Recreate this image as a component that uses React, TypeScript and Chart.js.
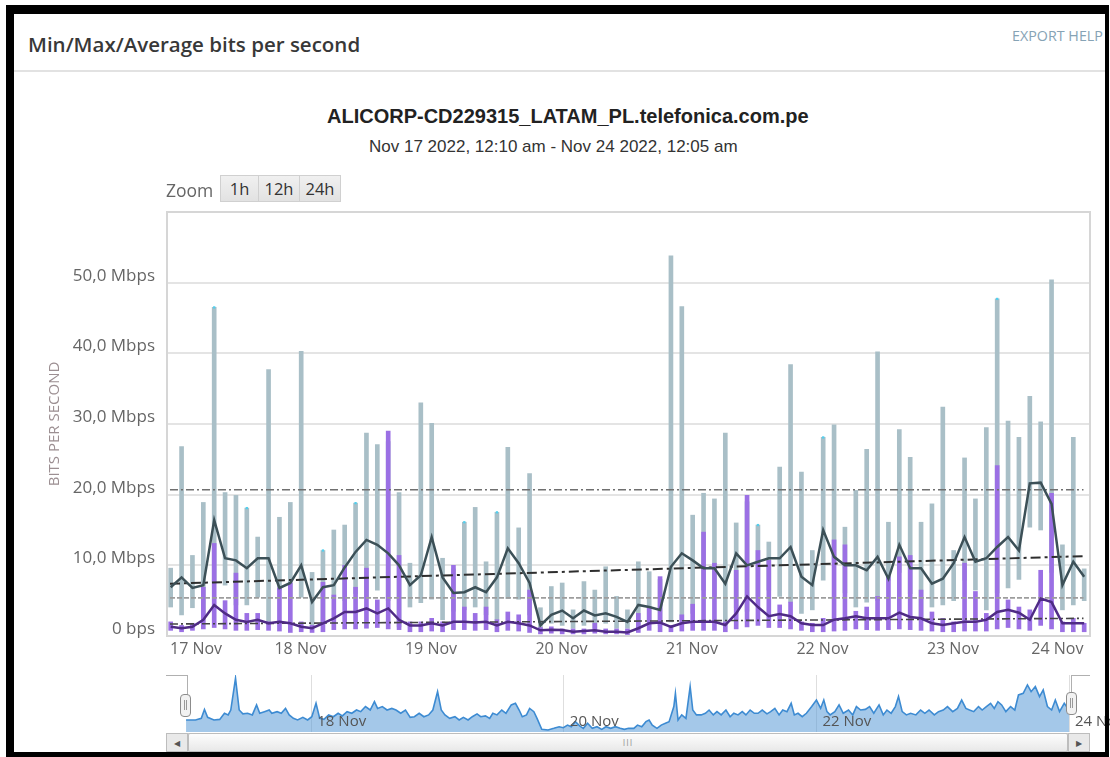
import React, { useEffect, useRef } from 'react';
import { Chart, registerables } from 'chart.js';

Chart.register(...registerables);

// ---------- axis / tick data ----------
const dayTickHours = [0, 24, 48, 72, 96, 120, 144, 168];
const dayLabels = ['17 Nov', '18 Nov', '19 Nov', '20 Nov', '21 Nov', '22 Nov', '23 Nov', '24 Nov'];
const yTickValues = [0, 10, 20, 30, 40, 50, 60];
const yTickLabels = ['0 bps', '10,0 Mbps', '20,0 Mbps', '30,0 Mbps', '40,0 Mbps', '50,0 Mbps', ''];

// time axis (hours since 17 Nov 00:00)
const X_MIN = -0.55;
const X_MAX = 169.2;
const FIRST_SAMPLE_HOUR = 0.13;
const SAMPLE_STEP_HOURS = 2;

// ---------- series A (grey): Mbps ----------
const grayMax = [
  9.6, 26.8, 11.4, 18.9, 46.5, 20.3, 19.9, 18.1, 14.0, 37.7,
  16.8, 18.9, 40.3, 9.0, 12.1, 15.0, 15.7, 18.8, 28.7, 27.1,
  27.5, 20.3, 10.3, 33.0, 30.1, 11.0, 9.5, 16.1, 18.2, 10.5,
  17.5, 26.7, 15.3, 23.0, 4.0, 7.0, 7.5, 3.7, 7.7, 6.5,
  9.8, 5.6, 3.7, 10.5, 9.1, 8.0, 53.8, 46.6, 17.1, 20.2,
  19.4, 28.7, 16.0, 19.0, 15.7, 13.3, 23.9, 38.4, 23.2, 12.1,
  28.1, 29.9, 15.4, 20.6, 26.4, 40.2, 16.1, 29.2, 25.3, 16.1,
  18.7, 32.4, 12.1, 25.2, 19.4, 29.5, 47.7, 30.4, 28.1, 33.9,
  30.3, 50.4, 12.9, 28.1, 9.5,
];
const grayMin = [
  4.1, 3.0, 4.0, 2.7, 7.5, 7.2, 4.4, 4.4, 5.5, 1.8,
  6.5, 5.5, 5.5, 1.5, 1.8, 5.5, 5.0, 6.0, 5.5, 6.5,
  5.0, 1.3, 4.1, 4.7, 5.2, 2.3, 3.5, 3.7, 4.1, 3.0,
  2.3, 5.3, 5.2, 3.0, 0.8, 1.8, 1.5, 1.1, 1.5, 1.1,
  1.8, 1.1, 1.1, 1.5, 2.3, 1.5, 2.0, 2.3, 3.2, 6.5,
  5.6, 2.0, 4.0, 3.5, 5.6, 6.5, 5.6, 4.8, 3.2, 3.7,
  7.9, 10.3, 6.1, 4.1, 4.8, 5.0, 7.9, 9.0, 6.0, 2.7,
  4.1, 4.4, 5.0, 7.9, 6.5, 3.7, 6.1, 6.8, 8.0, 15.4,
  15.0, 9.0, 3.7, 4.4, 5.0,
];
const grayAvg = [
  6.9, 8.3, 6.8, 7.2, 16.4, 11.0, 10.7, 9.6, 11.0, 11.0,
  6.8, 7.5, 10.0, 4.8, 6.9, 7.2, 9.7, 11.9, 13.6, 12.9,
  11.7, 10.0, 7.2, 8.6, 14.0, 8.3, 6.1, 6.2, 6.9, 6.2,
  8.3, 12.4, 10.3, 7.5, 1.5, 3.0, 3.6, 2.5, 3.6, 2.9,
  3.2, 2.7, 2.0, 4.4, 4.1, 3.7, 9.8, 11.7, 10.7, 9.6,
  9.6, 7.4, 11.7, 10.0, 10.5, 11.0, 11.0, 12.6, 8.4, 7.2,
  15.0, 11.2, 10.0, 10.0, 9.3, 11.2, 8.1, 12.9, 9.6, 9.6,
  7.4, 8.1, 10.3, 14.0, 10.5, 11.0, 12.6, 14.0, 12.1, 21.6,
  21.7, 18.7, 7.2, 10.5, 8.4,
];
// samples whose maximum marker shows as a cyan tip
const cyanTipIndex = [4, 7, 14, 17, 27, 30, 54, 60, 76];

// ---------- series B (purple): Mbps ----------
const purpleMax = [
  2.0, 1.5, 1.8, 6.9, 13.1, 5.0, 8.9, 3.2, 3.2, 2.0,
  6.8, 7.5, 2.0, 1.5, 7.6, 5.8, 10.0, 6.9, 9.6, 5.1,
  29.0, 11.4, 2.0, 2.0, 2.5, 2.0, 10.0, 4.1, 3.2, 4.1,
  2.3, 3.4, 3.0, 6.5, 1.2, 1.3, 1.0, 1.0, 1.0, 1.8,
  1.0, 1.0, 1.0, 3.2, 4.1, 8.4, 1.5, 3.0, 4.5, 14.7,
  10.3, 2.0, 9.3, 19.9, 12.1, 10.7, 4.4, 4.8, 2.0, 1.8,
  2.5, 13.6, 12.9, 3.5, 4.1, 5.6, 8.4, 11.2, 11.4, 6.5,
  3.4, 2.5, 2.0, 10.3, 6.3, 3.2, 24.1, 5.1, 4.1, 3.7,
  9.3, 20.2, 2.0, 2.5, 1.8,
];
const purpleMin = [
  0.8, 0.6, 0.8, 1.0, 1.2, 1.0, 0.8, 0.8, 0.9, 0.8,
  0.7, 0.5, 0.6, 0.5, 0.6, 0.9, 1.0, 1.0, 1.1, 1.2,
  1.0, 0.9, 0.6, 0.6, 0.7, 0.6, 0.9, 0.9, 0.8, 0.9,
  0.6, 0.8, 0.7, 0.5, 0.3, 0.4, 0.3, 0.3, 0.3, 0.4,
  0.3, 0.3, 0.2, 0.5, 0.8, 0.6, 0.6, 0.7, 0.8, 0.8,
  0.8, 0.6, 1.0, 1.3, 1.5, 1.2, 1.2, 1.0, 0.8, 0.6,
  0.6, 0.7, 0.8, 1.0, 0.9, 0.8, 0.9, 1.0, 0.9, 0.8,
  0.7, 0.6, 0.6, 0.7, 0.7, 0.7, 1.0, 1.2, 1.0, 0.8,
  1.5, 1.0, 0.6, 0.6, 0.6,
];
const purpleAvg = [
  1.3, 1.1, 1.3, 2.3, 4.4, 3.2, 2.3, 2.0, 2.3, 1.8,
  2.0, 1.8, 1.3, 1.1, 1.8, 2.5, 3.4, 3.4, 3.9, 3.2,
  3.9, 2.3, 1.5, 1.5, 1.8, 1.5, 2.0, 2.0, 1.9, 2.0,
  1.5, 2.0, 1.8, 1.5, 0.8, 0.9, 0.85, 0.6, 0.7, 0.8,
  0.6, 0.6, 0.5, 1.1, 1.8, 1.9, 1.3, 1.8, 2.0, 2.0,
  2.0, 1.55, 3.2, 5.6, 4.1, 2.8, 3.1, 2.8, 1.8, 1.55,
  1.55, 2.3, 2.5, 2.8, 2.5, 2.5, 2.5, 3.3, 2.7, 2.5,
  1.8, 1.55, 1.8, 2.0, 2.0, 2.3, 3.4, 3.7, 3.3, 2.3,
  5.3, 4.8, 1.8, 1.8, 1.8,
];

// reference lines (start / end values, Mbps)
const refLineHours = [0, 168];
const grayP95 = [20.7, 20.7];
const grayTrend = [7.4, 11.3];
const purpleP95 = [5.4, 5.4];
const purpleTrend = [1.7, 2.5];

// ---------- navigator (overview) ----------
const navTickHours = [24, 72, 120, 168];
const navTickLabels = ['18 Nov', '20 Nov', '22 Nov', '24 Nov'];
const navHours = [
  0.2, 2.0, 3.1, 3.7, 4.3, 5.5, 6.6, 7.5, 8.2, 8.7,
  9.6, 10.3, 11.0, 11.9, 12.8, 13.6, 14.2, 15.1, 16.0, 16.5,
  17.5, 18.3, 19.1, 19.8, 20.6, 21.4, 22.4, 23.3, 24.1, 24.9,
  25.6, 26.4, 27.3, 28.2, 29.1, 29.9, 30.8, 31.7, 32.6, 33.4,
  34.3, 35.2, 36.0, 36.6, 37.5, 38.4, 39.3, 40.1, 41.0, 41.9,
  42.8, 43.6, 44.5, 45.4, 46.3, 47.1, 48.0, 48.7, 49.4, 50.3,
  51.3, 52.1, 52.9, 53.8, 54.6, 55.5, 56.2, 57.1, 57.9, 58.5,
  59.3, 60.2, 61.0, 62.0, 62.8, 63.5, 64.1, 64.9, 65.5, 66.3,
  66.9, 67.8, 69.0, 70.1, 71.1, 71.9, 72.7, 73.4, 74.2, 75.0,
  75.7, 76.5, 77.4, 78.3, 79.2, 80.0, 80.9, 81.8, 82.7, 83.5,
  84.3, 85.3, 86.0, 86.8, 87.6, 88.2, 88.8, 89.7, 90.5, 91.3,
  92.0, 92.9, 93.2, 93.7, 94.4, 95.2, 96.0, 96.5, 97.2, 98.1,
  98.9, 99.6, 100.4, 101.1, 101.9, 102.8, 103.6, 104.3, 105.1, 105.9,
  106.6, 107.4, 108.2, 108.9, 109.7, 110.6, 111.3, 112.1, 112.9, 113.6,
  114.4, 115.2, 115.8, 116.5, 117.3, 118.1, 119.1, 120.0, 120.8, 121.4,
  122.0, 122.6, 123.5, 124.3, 125.1, 126.1, 126.9, 127.6, 128.4, 129.3,
  130.1, 130.9, 131.9, 132.7, 133.4, 134.2, 135.0, 135.6, 136.3, 137.1,
  137.9, 138.9, 139.8, 140.6, 141.4, 142.4, 143.2, 144.1, 144.9, 145.9,
  146.8, 147.6, 148.4, 149.1, 149.9, 150.8, 151.5, 152.3, 153.1, 153.8,
  154.5, 155.2, 156.0, 156.9, 157.7, 158.4, 159.3, 160.1, 160.8, 161.6,
  162.4, 163.1, 163.9, 164.7, 165.4, 166.2, 167.1, 168.0,
];
const navMbps = [
  5.9, 5.9, 6.7, 11.1, 7.2, 5.9, 6.2, 9.2, 8.4, 10.8,
  26.4, 10.8, 8.9, 9.2, 8.4, 13.3, 9.2, 10.0, 10.8, 9.2,
  10.0, 9.2, 11.6, 8.4, 6.7, 5.9, 7.2, 5.9, 7.5, 14.1,
  6.7, 6.2, 8.4, 7.5, 9.2, 7.9, 10.0, 9.2, 10.8, 10.0,
  12.5, 10.8, 14.9, 11.6, 12.5, 10.8, 11.6, 10.8, 9.2, 10.8,
  7.2, 7.5, 9.2, 7.5, 8.4, 10.8, 19.8, 10.8, 8.4, 6.7,
  7.5, 5.9, 7.2, 5.9, 7.5, 8.9, 7.5, 7.9, 6.7, 9.2,
  8.4, 10.8, 9.2, 13.3, 14.1, 10.8, 7.5, 8.4, 11.6, 10.0,
  6.7, 1.3, 1.0, 1.8, 2.6, 2.1, 3.4, 2.6, 5.1, 3.0,
  1.8, 4.3, 1.8, 2.6, 1.3, 2.6, 1.8, 2.6, 1.8, 1.3,
  1.8, 1.8, 3.4, 2.6, 5.1, 5.9, 3.4, 1.8, 3.4, 4.3,
  5.1, 12.5, 19.0, 5.9, 8.4, 6.7, 22.3, 10.8, 8.4, 8.4,
  9.2, 10.8, 8.4, 10.0, 8.4, 10.8, 7.5, 9.2, 8.4, 10.0,
  8.4, 10.8, 9.2, 9.2, 10.8, 8.9, 10.0, 11.6, 8.4, 10.8,
  10.0, 14.1, 8.4, 9.2, 7.5, 9.2, 12.5, 15.7, 11.6, 15.7,
  10.0, 8.4, 10.0, 13.3, 9.2, 10.8, 8.4, 12.5, 10.8, 11.1,
  12.5, 9.2, 13.3, 8.4, 10.8, 9.2, 12.5, 17.4, 10.0, 8.4,
  9.2, 8.4, 10.8, 9.2, 10.8, 8.4, 10.0, 10.8, 12.5, 10.0,
  11.6, 15.7, 11.6, 10.8, 10.0, 12.5, 10.8, 12.5, 14.1, 11.6,
  14.9, 13.3, 10.0, 12.5, 10.8, 18.2, 19.0, 23.1, 19.8, 22.3,
  17.4, 20.7, 12.5, 10.8, 15.7, 10.0, 14.1, 10.8,
];

const FONT = '"Open Sans", sans-serif';

const plotBorder = {
  id: 'plotBorder',
  beforeDatasetsDraw(chart: any) {
    const { ctx, chartArea } = chart;
    const { left, top, right, bottom } = chartArea;
    ctx.save();
    ctx.strokeStyle = '#d6d6d6';
    ctx.lineWidth = 2;
    ctx.strokeRect(left, top, right - left, bottom - top);
    ctx.restore();
  },
};

const navLabels = {
  id: 'navLabels',
  afterDraw(chart: any) {
    const { ctx, chartArea } = chart;
    const xs = chart.scales.x;
    ctx.save();
    ctx.font = `15px ${FONT}`;
    ctx.fillStyle = '#555';
    ctx.textBaseline = 'middle';
    ctx.textAlign = 'left';
    navTickHours.forEach((h, i) => {
      ctx.fillText(navTickLabels[i], xs.getPixelForValue(h) + 6, chartArea.bottom - 10);
    });
    ctx.restore();
  },
};

function lineSet(label: string, ys: number[], xs: number[], color: string, width: number, dash: number[], order: number) {
  return {
    type: 'line' as const,
    label,
    data: xs.map((x, i) => ({ x, y: ys[i] })),
    borderColor: color,
    borderWidth: width,
    borderDash: dash,
    pointRadius: 0,
    fill: false,
    tension: 0,
    order,
  };
}

export default function App() {
  const mainRef = useRef<HTMLCanvasElement>(null);
  const navRef = useRef<HTMLCanvasElement>(null);

  useEffect(() => {
    const times = grayAvg.map((_, i) => FIRST_SAMPLE_HOUR + i * SAMPLE_STEP_HOURS);

    const main = new Chart(mainRef.current as HTMLCanvasElement, {
      type: 'bar',
      data: {
        datasets: [
          lineSet('Avg B', purpleAvg, times, '#4f2b85', 2.5, [], 0),
          lineSet('Avg A', grayAvg, times, '#3c5057', 2.5, [], 1),
          lineSet('95th A', grayP95, refLineHours, '#6f6f6f', 1.6, [8, 3, 2, 3], 2),
          lineSet('Trend A', grayTrend, refLineHours, '#2e2e2e', 2, [10, 4, 3, 4], 2),
          lineSet('95th B', purpleP95, refLineHours, '#9d9d9d', 1.6, [5, 2], 2),
          lineSet('Trend B', purpleTrend, refLineHours, '#444', 1.6, [8, 3, 2, 3], 2),
          {
            type: 'scatter' as const,
            label: 'Max tips',
            data: cyanTipIndex.map((k) => ({ x: times[k], y: grayMax[k] })),
            pointStyle: 'rect',
            pointRadius: 1.6,
            pointBackgroundColor: '#52cfee',
            pointBorderWidth: 0,
            order: 2,
          },
          {
            type: 'bar' as const,
            label: 'Range B',
            data: times.map((x, i) => ({ x, y: [purpleMin[i], purpleMax[i]] })),
            backgroundColor: '#9b70e4',
            barThickness: 4,
            grouped: false,
            order: 3,
          },
          {
            type: 'bar' as const,
            label: 'Range A',
            data: times.map((x, i) => ({ x, y: [grayMin[i], grayMax[i]] })),
            backgroundColor: '#a9bfc7',
            barThickness: 4,
            grouped: false,
            order: 4,
          },
        ] as any,
      },
      options: {
        responsive: false,
        animation: false,
        layout: { padding: { left: 43, right: 20, top: 12, bottom: 0 } },
        plugins: { legend: { display: false }, tooltip: { enabled: false }, title: { display: false } },
        scales: {
          x: {
            type: 'linear',
            min: X_MIN,
            max: X_MAX,
            offset: false,
            grid: { display: false, drawTicks: false },
            border: { display: true, color: '#d6d6d6', width: 2 },
            afterBuildTicks: (s: any) => {
              s.ticks = dayTickHours.map((v) => ({ value: v }));
            },
            afterFit: (s: any) => {
              s.height = 34;
              s.paddingLeft = 0;
              s.paddingRight = 0;
            },
            ticks: {
              autoSkip: false,
              maxRotation: 0,
              minRotation: 0,
              align: 'inner',
              padding: 4,
              color: '#666',
              font: { family: FONT, size: 16 },
              callback: (v: any) => {
                const k = dayTickHours.indexOf(Number(v));
                return k >= 0 ? dayLabels[k] : '';
              },
            },
          },
          y: {
            type: 'linear',
            min: 0,
            max: 60,
            afterBuildTicks: (s: any) => {
              s.ticks = yTickValues.map((v) => ({ value: v }));
            },
            afterFit: (s: any) => {
              s.width = 124;
              s.paddingTop = 0;
              s.paddingBottom = 0;
            },
            grid: { color: '#e4e4e4', lineWidth: 2, drawTicks: false },
            border: { display: true, color: '#d6d6d6', width: 2 },
            ticks: {
              padding: 12,
              labelOffset: -7,
              color: '#666',
              font: { family: FONT, size: 17 },
              callback: (v: any) => {
                const k = yTickValues.indexOf(Number(v));
                return k >= 0 ? yTickLabels[k] : '';
              },
            },
            title: {
              display: true,
              text: 'BITS PER SECOND',
              color: '#9c8f92',
              font: { family: FONT, size: 15 },
              padding: { top: 3, bottom: 0 },
            },
          },
        },
      } as any,
      plugins: [plotBorder],
    });

    const nav = new Chart(navRef.current as HTMLCanvasElement, {
      type: 'line',
      data: {
        datasets: [
          {
            label: 'Overview',
            data: navHours.map((x, i) => ({ x, y: navMbps[i] })),
            borderColor: '#3d8bd2',
            borderWidth: 1.6,
            backgroundColor: 'rgba(90,155,215,0.55)',
            fill: 'origin',
            pointRadius: 0,
            tension: 0,
          },
        ],
      },
      options: {
        responsive: false,
        animation: false,
        layout: { padding: { left: 185, right: 41, top: 5, bottom: 8 } },
        plugins: { legend: { display: false }, tooltip: { enabled: false } },
        scales: {
          x: {
            type: 'linear',
            min: 0,
            max: 168,
            afterBuildTicks: (s: any) => {
              s.ticks = navTickHours.map((v) => ({ value: v }));
            },
            afterFit: (s: any) => {
              s.height = 0;
              s.paddingLeft = 0;
              s.paddingRight = 0;
            },
            grid: { color: '#dedede', lineWidth: 1, drawTicks: false },
            border: { display: false },
            ticks: { display: false },
          },
          y: { display: false, min: 0, max: 28 },
        },
      } as any,
      plugins: [navLabels],
    });

    let alive = true;
    if ((document as any).fonts && (document as any).fonts.ready) {
      (document as any).fonts.ready.then(() => {
        if (alive) {
          main.update('none');
          nav.update('none');
        }
      });
    }
    return () => {
      alive = false;
      main.destroy();
      nav.destroy();
    };
  }, []);

  const abs = (o: React.CSSProperties): React.CSSProperties => ({ position: 'absolute', ...o });

  return (
    <div
      style={{
        position: 'fixed',
        left: 0,
        top: 0,
        width: 1110,
        height: 757,
        background: '#fff',
        overflow: 'hidden',
        fontFamily: FONT,
      }}
    >
      {/* header */}
      <div style={abs({ left: 28, top: 29, fontSize: 20.5, fontWeight: 600, lineHeight: '30px', color: '#383838', whiteSpace: 'nowrap' })}>
        Min/Max/Average bits per second
      </div>
      <div style={abs({ left: 1012, top: 26, fontSize: 14.3, lineHeight: '20px', color: '#86a3b5', whiteSpace: 'nowrap' })}>
        EXPORT HELP
      </div>
      <div style={abs({ left: 14, top: 70, width: 1091, height: 2, background: '#e2e2e2' })} />

      {/* chart title */}
      <div style={abs({ left: 327, top: 103, fontFamily: '"Liberation Sans", Arial, sans-serif', fontSize: 20, fontWeight: 700, lineHeight: '26px', color: '#222', whiteSpace: 'nowrap' })}>
        ALICORP-CD229315_LATAM_PL.telefonica.com.pe
      </div>
      <div style={abs({ left: 369, top: 137, fontFamily: '"Liberation Sans", Arial, sans-serif', fontSize: 17, lineHeight: '20px', color: '#333', whiteSpace: 'nowrap' })}>
        Nov 17 2022, 12:10 am - Nov 24 2022, 12:05 am
      </div>

      {/* main chart */}
      <canvas ref={mainRef} width={1110} height={470} style={abs({ left: 0, top: 200, width: 1110, height: 470 })} />

      {/* zoom buttons */}
      <div style={abs({ left: 166, top: 177, fontSize: 17.5, lineHeight: '26px', color: '#666' })}>Zoom</div>
      <div style={abs({ left: 220, top: 175, height: 27, display: 'flex', border: '1px solid #d0d0d0', boxSizing: 'border-box', background: 'linear-gradient(#f0f0f0,#e2e2e2)' })}>
        {['1h', '12h', '24h'].map((t, i) => (
          <div
            key={t}
            style={{
              width: i === 0 ? 37 : 40,
              textAlign: 'center',
              fontSize: 16.5,
              lineHeight: '25px',
              color: '#333',
              borderLeft: i === 0 ? 'none' : '1px solid #d0d0d0',
            }}
          >
            {t}
          </div>
        ))}
      </div>

      {/* navigator */}
      <canvas ref={navRef} width={1110} height={70} style={abs({ left: 0, top: 670, width: 1110, height: 70 })} />
      <div style={abs({ left: 166, top: 675, width: 22, height: 1, background: '#b0b0b0' })} />
      <div style={abs({ left: 187, top: 675, width: 1, height: 20, background: '#b0b0b0' })} />
      <div style={abs({ left: 1071, top: 675, width: 1, height: 18, background: '#b0b0b0' })} />
      <div style={abs({ left: 1071, top: 675, width: 19, height: 1, background: '#b0b0b0' })} />
      <div style={abs({ left: 180, top: 694, width: 11, height: 23, background: '#f2f2f2', border: '1.5px solid #8c8c8c', borderRadius: 4, boxSizing: 'border-box' })}>
        <div style={abs({ left: 3, top: 5, width: 1, height: 10, background: '#999' })} />
        <div style={abs({ left: 5, top: 5, width: 1, height: 10, background: '#999' })} />
      </div>
      <div style={abs({ left: 1066, top: 692, width: 11, height: 23, background: '#f2f2f2', border: '1.5px solid #8c8c8c', borderRadius: 4, boxSizing: 'border-box' })}>
        <div style={abs({ left: 3, top: 5, width: 1, height: 10, background: '#999' })} />
        <div style={abs({ left: 5, top: 5, width: 1, height: 10, background: '#999' })} />
      </div>

      {/* scrollbar */}
      <div style={abs({ left: 166, top: 733, width: 924, height: 19, background: '#f2f2f2', border: '1px solid #c8c8c8', boxSizing: 'border-box' })} />
      <div style={abs({ left: 188, top: 733, width: 880, height: 19, background: 'linear-gradient(#fdfdfd,#e8e8e8)', border: '1px solid #bdbdbd', borderRadius: 2, boxSizing: 'border-box', textAlign: 'center', fontSize: 9, lineHeight: '17px', color: '#9a9a9a', letterSpacing: 1 })}>
        III
      </div>
      <div style={abs({ left: 166, top: 733, width: 22, height: 19, background: '#e9e9e9', border: '1px solid #bdbdbd', boxSizing: 'border-box', textAlign: 'center', fontSize: 8, lineHeight: '17px', color: '#555' })}>
        ◀
      </div>
      <div style={abs({ left: 1068, top: 733, width: 22, height: 19, background: '#e9e9e9', border: '1px solid #bdbdbd', boxSizing: 'border-box', textAlign: 'center', fontSize: 8, lineHeight: '17px', color: '#555' })}>
        ▶
      </div>

      {/* black frame */}
      <div
        style={abs({
          left: 6,
          top: 5,
          width: 1103,
          height: 752,
          borderStyle: 'solid',
          borderColor: '#000',
          borderWidth: '9px 4px 5px 8px',
          boxSizing: 'border-box',
          pointerEvents: 'none',
        })}
      />
    </div>
  );
}
